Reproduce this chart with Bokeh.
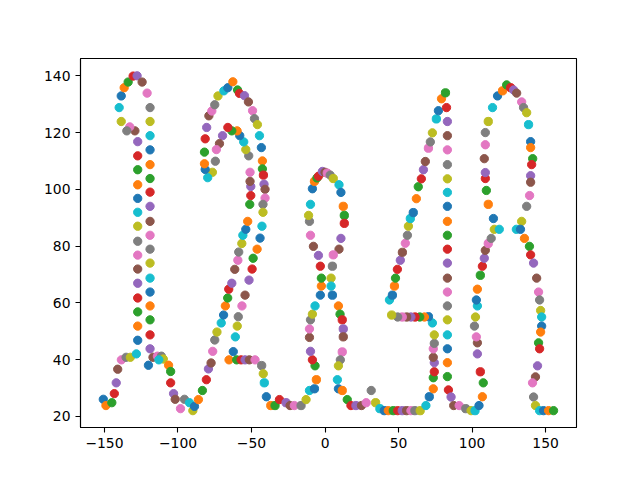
from bokeh.plotting import figure
from bokeh.models import ColumnDataSource, FixedTicker, Range1d
from bokeh.embed import file_html
from bokeh.resources import INLINE

# Handwritten path, points in drawing order (colours cycle tab10 along the path)
xs = [
    -150.8, -149, -145, -143.3, -142, -141, -138.5, -135.3, -132.4, -128.3,
    -127.4, -127.4, -127.4, -127.4, -127.4, -127.4, -127.4, -127.4, -127.4, -127.4,
    -127.4, -127.4, -127.4, -127.4, -127.4, -129.3, -132.8, -134.8, -138.6, -140,
    -138.6, -136.6, -133.9, -130.5, -127.8, -124.4, -121, -119, -119, -119,
    -119, -119, -119, -119, -119, -119, -119, -119, -119, -119,
    -119, -119, -119, -119, -119, -117, -114, -111.3, -110, -113,
    -120.1, -106.4, -105, -105, -103, -101.9, -98.3, -95.6, -89.9, -92.2,
    -88.8, -86.1, -83.4, -80.7, -79.3, -77.5, -76.4, -75, -73.5, -70.6,
    -69, -67.8, -66.2, -65.5, -63.4, -61.4, -59.3, -58.7, -56.6, -55.9,
    -53.9, -52.6, -51.2, -50.5, -50.5, -51, -51, -51.9, -53.9, -55.3,
    -58, -59.8, -63.4, -66.1, -69.7, -71.8, -73.9, -74.6, -76.6, -79.8,
    -81.5, -82, -82, -81.5, -80.5, -79, -77, -75, -72.8, -68.8,
    -66.1, -62.7, -59.5, -58.2, -54.8, -52.1, -49.3, -48, -46, -44.6,
    -43.3, -42.6, -42.6, -41.9, -41.5, -40.8, -40.8, -42.2, -42.2, -42.9,
    -44.2, -46.2, -48.9, -49.6, -51.7, -54.4, -56.5, -59, -59.7, -61,
    -62.4, -65.3, -60.1, -57.1, -54.4, -51.5, -47.6, -43.1, -42, -41.3,
    -39.9, -36.9, -34, -31, -26.5, -23.8, -20.9, -16.3, -12.9, -10.6,
    -7.2, -5.9, -6.8, -8.6, -9.9, -10.6, -10.6, -9.9, -8.6, -6.8,
    -3.2, -2.5, -2.5, -3.2, -4.5, -7.9, -9.9, -10.6, -11.2, -9.9,
    -8.6, -7.2, -5.5, -4.5, -1.8, 0, 1.5, 3.5, 5.6, 9.5,
    10.8, 12.4, 13.1, 13.1, 10.8, 9.5, 5.6, 5, 4.1, 4.1,
    5, 9.1, 10.2, 11.7, 12.4, 12.4, 11.7, 10.4, 9.1, 8.4,
    9.1, 11.7, 15.1, 17.6, 21, 24.8, 28, 31.4, 34.4, 37.3,
    40.3, 43, 46.4, 49.4, 52.5, 55.5, 58.4, 61.1, 64.7, 68.6,
    70.9, 73.6, 73.6, 74.3, 74.3, 73.6, 73.6, 74.3, 74.3, 73,
    70.3, 67.6, 64.4, 61.2, 58.4, 55.5, 52.5, 49.4, 45.3, 43.8,
    45.8, 47.2, 47.9, 49.2, 51.2, 52.6, 54.6, 56, 56.7, 58,
    60, 62.1, 63.4, 65.5, 66.9, 68.2, 70.3, 71.6, 73, 75.7,
    77.1, 79.2, 81.9, 82.6, 83.2, 83.2, 83.2, 83.2, 83.2, 83.2,
    83.2, 83.2, 83.2, 83.2, 83.2, 83.2, 83.2, 83.2, 83.2, 83.2,
    83.2, 83.2, 83.2, 83.9, 85.7, 87.5, 91.2, 95.7, 99.3, 102,
    104.7, 107, 107.6, 105.6, 103.6, 103.6, 102.9, 101.6, 102.3, 103.6,
    102.9, 103.6, 105.6, 107, 108.3, 109, 111, 113, 115.1, 118.5,
    114.5, 111, 109.7, 109, 109, 108.3, 109, 109, 111, 113.9,
    117.3, 120.7, 123.5, 126.2, 128.2, 130.3, 133.7, 135, 137.1, 138.4,
    139.8, 139.8, 141.2, 140.5, 139.8, 139.8, 139.1, 137.1, 133.7, 130.1,
    132.9, 135.6, 139, 139.8, 141.8, 143.9, 145.2, 145.9, 146.6, 147.3,
    147.3, 146.6, 145.2, 145.9, 144.5, 143.1, 141.1, 141.8, 143.1, 145.9,
    148.6, 152, 155.4,
]
ys = [
    26, 23.8, 24.8, 28, 31.8, 36.6, 39.9, 40.8, 40.8, 42,
    46.8, 51.8, 56.8, 61.7, 66.9, 71.9, 76.8, 81.7, 87, 91.9,
    96.8, 101.6, 106.9, 111.8, 116.8, 120.6, 122, 120.6, 123.9, 128.8,
    132.9, 135.8, 137.8, 139.9, 140, 137.8, 133.9, 128.8, 123.9, 118.9,
    113.9, 108.7, 103.8, 99, 94, 88.7, 83.8, 78.9, 74, 68.7,
    63.8, 58.9, 54, 48.7, 43.8, 40.8, 41.2, 41.2, 40.2, 39.9,
    38, 38, 35.8, 31.8, 28, 26, 22.7, 26, 22, 24.8,
    23.5, 25.9, 29.1, 32.9, 36.7, 38.8, 42.9, 46.9, 49.7, 52.9,
    55.7, 58.9, 61.7, 64.8, 66.9, 71.8, 75, 77.9, 80.9, 83.8,
    85.9, 88.7, 94.7, 97.8, 101, 102.8, 106, 111.8, 114, 116.7,
    118.9, 120.6, 120.6, 121.8, 118.9, 116.1, 114, 109.9, 106, 104.1,
    107, 109, 113.1, 117.8, 121.8, 125.9, 127.6, 129.8, 132.9, 134.7,
    135.8, 137.9, 135, 133.8, 133, 130.8, 127.7, 124.9, 122.8, 118.9,
    114.7, 110, 107.2, 105, 101.8, 100, 96.9, 94.7, 91.9, 87,
    82.8, 78.9, 75.7, 71.9, 68, 62.7, 58.9, 55.1, 51.8, 48,
    42.8, 39.9, 39.9, 39.9, 39.9, 39.9, 39.9, 37.9, 35, 31.8,
    26.9, 23.8, 23.8, 25.9, 24.8, 23.8, 23.8, 23.8, 25.9, 29.1,
    29.7, 32.9, 37.8, 39.9, 42.9, 47.8, 50.8, 54, 56, 58.9,
    62.7, 65.9, 68.7, 72.9, 76.7, 79.9, 83.8, 88.7, 90.8, 94.7,
    100.2, 102.8, 104, 104.6, 106.3, 106, 105.7, 105, 103.8, 101.6,
    98.9, 94, 90.8, 88, 82.7, 78.9, 76.9, 72.9, 68.7, 65.9,
    62.7, 58.9, 56, 54, 50.8, 48, 42.7, 39.9, 37.8, 32.9,
    29.7, 29.1, 25.9, 23.8, 23.8, 23.8, 24.8, 29.1, 24.8, 22.7,
    22, 22, 22, 22, 22, 22, 22, 22, 22, 23.8,
    26.9, 29.7, 33.6, 35.7, 38.9, 40.8, 43.8, 45.7, 48.7, 52.9,
    55.1, 55, 55, 55, 55, 55, 55, 55, 55.7, 61,
    62.7, 65.9, 68.7, 71.8, 75, 77.8, 81, 83.8, 87, 89.7,
    91.8, 96.7, 100.9, 103.7, 106.9, 109.8, 114.5, 116.7, 119.9, 124.8,
    127.7, 131.9, 134, 128.8, 123.9, 118.9, 113.9, 108.7, 103.7, 98.9,
    94, 88.7, 83.8, 78.9, 74, 68.7, 63.8, 58.9, 54, 48.7,
    43.8, 38.9, 34, 29.3, 26.8, 23.8, 23.8, 22.7, 22, 22,
    23.8, 26.9, 31.8, 35.7, 42, 45.9, 48, 51.8, 55, 58.9,
    61, 64.8, 69.7, 72.9, 75.7, 78.5, 80.9, 82.7, 85.9, 85.9,
    89.7, 94.7, 99.6, 103.8, 105.9, 110.8, 115.7, 120, 123.9, 128.8,
    132.9, 134.7, 136.8, 135.8, 135, 133.9, 130.8, 128.8, 127, 122.8,
    116.8, 114.7, 110.8, 108.7, 104.8, 102.5, 97.8, 94, 88.7, 85.9,
    85.9, 82.7, 79.9, 76.9, 74, 68.7, 63.8, 61, 57.3, 55,
    51.8, 49.7, 45.9, 43.8, 37.8, 33.9, 31.8, 26.8, 23.8, 22,
    22, 22, 22,
]

x_ticks = [-150, -100, -50, 0, 50, 100, 150]
y_ticks = [20, 40, 60, 80, 100, 120, 140]

palette = ["#1f77b4", "#ff7f0e", "#2ca02c", "#d62728", "#9467bd",
           "#8c564b", "#e377c2", "#7f7f7f", "#bcbd22", "#17becf"]
colors = [palette[i % len(palette)] for i in range(len(xs))]

src = ColumnDataSource(data=dict(x=xs, y=ys, c=colors))

p = figure(width=624, height=464, output_backend="svg", toolbar_location=None,
           x_range=Range1d(-166.3, 171.0), y_range=Range1d(16.06, 146.1),
           min_border_left=80, min_border_right=48,
           min_border_top=58, min_border_bottom=37)

p.scatter(x="x", y="y", source=src, size=8.3, marker="circle",
          fill_color="c", line_color="c", line_width=1)

p.xgrid.visible = False
p.ygrid.visible = False
p.outline_line_color = "black"
p.outline_line_width = 1.1
p.background_fill_color = "white"
p.border_fill_color = "white"

for ax, ticks in ((p.xaxis, x_ticks), (p.yaxis, y_ticks)):
    ax.ticker = FixedTicker(ticks=ticks)
    ax.axis_line_color = "black"
    ax.axis_line_width = 1.1
    ax.major_tick_line_color = "black"
    ax.major_tick_line_width = 1.1
    ax.major_tick_in = 0
    ax.major_tick_out = 5
    ax.minor_tick_line_color = None
    ax.major_label_text_font = "DejaVu Sans"
    ax.major_label_text_font_size = "13.9px"
    ax.major_label_text_color = "black"
    ax.major_label_standoff = 5

open("out.html", "w").write(file_html(p, INLINE))
